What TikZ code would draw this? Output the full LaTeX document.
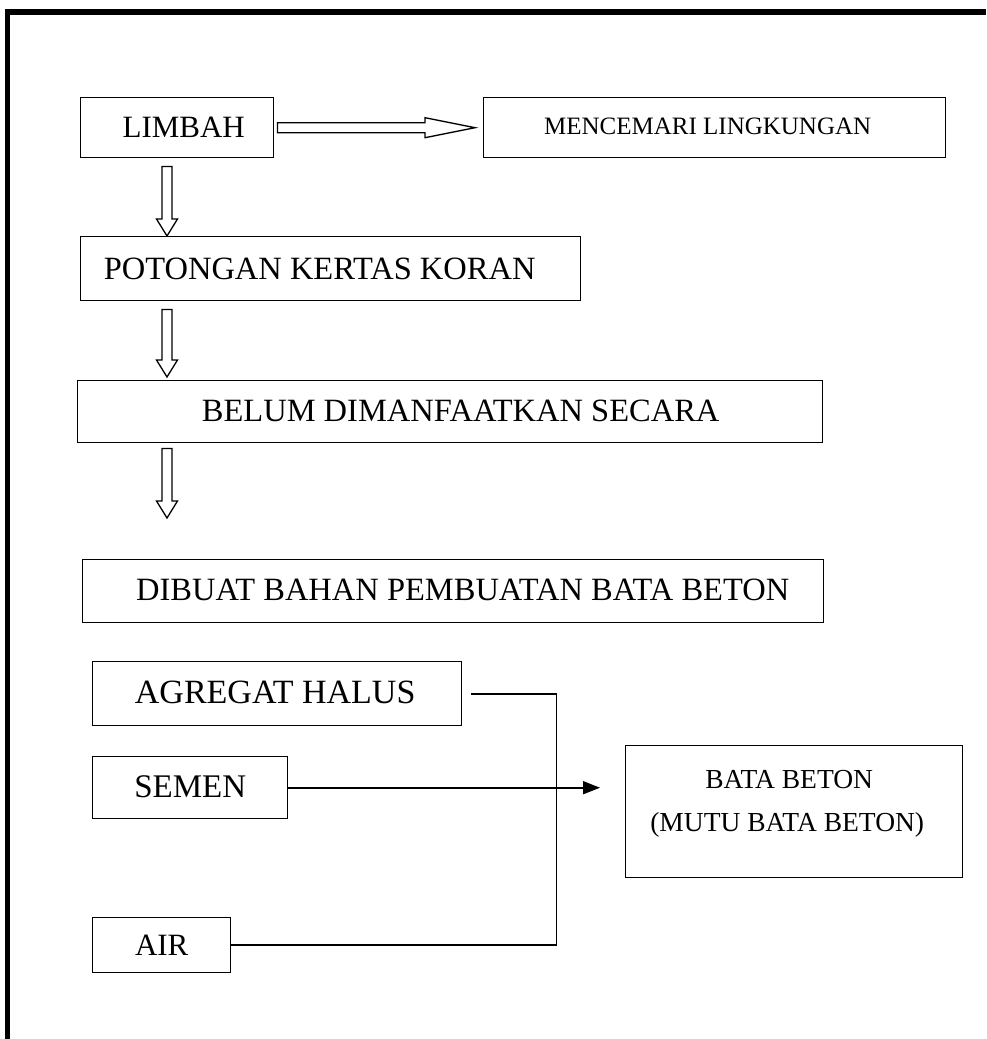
\documentclass[tikz,border=0pt]{standalone}
\usepackage{fontspec}
\setmainfont{Liberation Serif}
\usetikzlibrary{calc,arrows.meta}
\begin{document}
\begin{tikzpicture}[x=1pt,y=-1pt,
  box/.style={draw,line width=1.4pt,inner sep=0pt,anchor=north west},
  big/.style={font=\fontsize{32.5}{32.5}\selectfont},
  small/.style={font=\fontsize{25}{25}\selectfont},
  hollow/.style={draw,line width=1.3pt,fill=white,line join=miter},
  conn/.style={line width=1.6pt}]
\useasboundingbox (0,0) rectangle (986,1039);
% frame
\draw[line width=5.5pt] (7.5,1039) -- (7.5,12) -- (986,12);
% boxes
\node[box,font=\fontsize{31}{31}\selectfont,minimum width=193pt,minimum height=60pt] (limbah) at (80,97) {\hspace*{13pt}LIMBAH};
\node[box,small,minimum width=462pt,minimum height=60pt] (menc) at (483,97) {\raisebox{2pt}{MENCEMARI LINGKUNGAN}\hspace*{14pt}};
\node[box,big,minimum width=500pt,minimum height=64pt] (potong) at (80,236) {POTONGAN KERTAS KORAN\hspace*{22pt}};
\node[box,big,minimum width=745pt,minimum height=62pt] (belum) at (77,380) {\hspace*{21pt}\raisebox{2pt}{BELUM DIMANFAATKAN SECARA}};
\node[box,big,minimum width=741pt,minimum height=63pt] (dibuat) at (82,559) {\hspace*{19pt}\raisebox{2pt}{DIBUAT BAHAN PEMBUATAN BATA BETON}};
\node[box,font=\fontsize{34}{34}\selectfont,minimum width=369pt,minimum height=64pt] (agregat) at (92,661) {\raisebox{2pt}{AGREGAT HALUS}\hspace*{4pt}};
\node[box,font=\fontsize{33}{33}\selectfont,minimum width=195pt,minimum height=62pt] (semen) at (92,756) {\raisebox{3pt}{SEMEN}};
\node[box,font=\fontsize{31}{31}\selectfont,minimum width=138pt,minimum height=55pt] (air) at (92,917) {AIR};
\node[box,minimum width=337pt,minimum height=132pt,align=center,
  font=\fontsize{27.5}{43}\selectfont] (bata) at (625,745)
  {\raisebox{21pt}{BATA BETON\hspace*{10pt}}\\\raisebox{21pt}{(MUTU BATA BETON)}\hspace*{14pt}};
% hollow horizontal arrow
\coordinate (h1) at ($(limbah.east)+(3,0)$);
\coordinate (h2) at ($(menc.west)+(-8,0)$);
\draw[hollow] ($(h1)+(0,-5)$) -- ($(h2)+(-50,-5)$) -- ($(h2)+(-50,-10)$) -- (h2)
  -- ($(h2)+(-50,10)$) -- ($(h2)+(-50,5)$) -- ($(h1)+(0,5)$) -- cycle;
% hollow down arrows
\coordinate (s1) at ($(limbah.south west)+(87,8)$);
\coordinate (t1) at ($(potong.north west)+(87,0)$);
\coordinate (s2) at ($(potong.south west)+(87,8)$);
\coordinate (t2) at ($(belum.north west)+(90,-3)$);
\coordinate (s3) at ($(belum.south west)+(90,5)$);
\coordinate (t3) at ($(dibuat.north west)+(85,-41)$);
\foreach \s/\t in {s1/t1,s2/t2,s3/t3}{
  \draw[hollow] ($(\s)+(-5,0)$) -- ($(\t)+(-5,-17)$) -- ($(\t)+(-10.5,-17)$) -- (\t)
    -- ($(\t)+(10.5,-17)$) -- ($(\t)+(5,-17)$) -- ($(\s)+(5,0)$) -- cycle;
}
% joining connectors
\draw[conn] ([xshift=9pt]agregat.east) -- ++(85,0) |- (air.east);
\coordinate (tip) at ($(bata.west)+(-25,0)$);
\draw[conn,-{Triangle[length=17pt,width=13pt]}] (semen.east) -- (semen.east -| tip);
\end{tikzpicture}
\end{document}
